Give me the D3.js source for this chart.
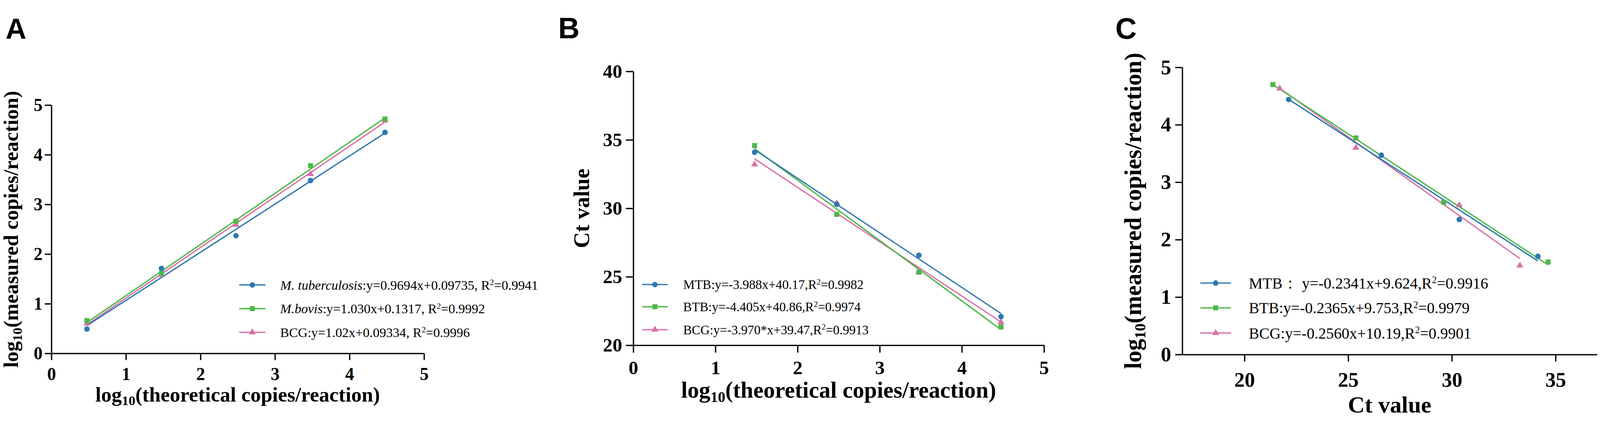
<!DOCTYPE html>
<html>
<head>
<meta charset="utf-8">
<script src="https://cdn.jsdelivr.net/npm/d3@7/dist/d3.min.js"></script>
<style>
  html, body { margin: 0; padding: 0; background: #ffffff; overflow: hidden; }
  svg { display: block; width: 100vw; height: 100vh; }
</style>
</head>
<body>
<svg id="chart" viewBox="0 0 4328 1092" preserveAspectRatio="xMidYMid meet"></svg>
<script>
// ---------------- DATA ----------------
const seriesNames = ["MTB", "BTB", "BCG"];

// Panel A: log10(theoretical) vs log10(measured)
const aX = [0.477, 1.477, 2.477, 3.477, 4.477];
const aMTB = [0.49, 1.71, 2.37, 3.48, 4.45];
const aBTB = [0.66, 1.61, 2.66, 3.78, 4.72];
const aBCG = [0.60, 1.58, 2.59, 3.61, 4.69];
const aSlope = [0.9694, 1.030, 1.02];
const aIntercept = [0.09735, 0.1317, 0.09334];
const aXTicks = [0, 1, 2, 3, 4, 5];
const aYTicks = [0, 1, 2, 3, 4, 5];
const aLegend = [
  ["M. tuberculosis", ":y=0.9694x+0.09735, R", "2", "=0.9941"],
  ["M.bovis", ":y=1.030x+0.1317, R", "2", "=0.9992"],
  ["", "BCG:y=1.02x+0.09334, R", "2", "=0.9996"]
];

// Panel B: log10(theoretical) vs Ct value
const bX = [1.477, 2.477, 3.477, 4.477];
const bMTB = [34.09, 30.30, 26.57, 22.09];
const bBTB = [34.58, 29.56, 25.33, 21.34];
const bBCG = [33.21, 30.36, 25.37, 21.68];
const bSlope = [-3.988, -4.405, -3.970];
const bIntercept = [40.17, 40.86, 39.47];
const bXTicks = [0, 1, 2, 3, 4, 5];
const bYTicks = [20, 25, 30, 35, 40];
const bLegend = [
  ["", "MTB:y=-3.988x+40.17,R", "2", "=0.9982"],
  ["", "BTB:y=-4.405x+40.86,R", "2", "=0.9974"],
  ["", "BCG:y=-3.970*x+39.47,R", "2", "=0.9913"]
];

// Panel C: Ct value vs log10(measured)
const cMTBx = [22.13, 26.60, 30.36, 34.15];
const cMTBy = [4.44, 3.47, 2.35, 1.71];
const cBTBx = [21.37, 25.37, 29.61, 34.64];
const cBTBy = [4.70, 3.77, 2.65, 1.61];
const cBCGx = [21.70, 25.37, 30.36, 33.28];
const cBCGy = [4.63, 3.60, 2.60, 1.55];
const cSlope = [-0.2341, -0.2365, -0.2560];
const cIntercept = [9.624, 9.753, 10.19];
const cXTicks = [20, 25, 30, 35];
const cYTicks = [0, 1, 2, 3, 4, 5];
const cLegend = [
  ["", "MTB\uFF1A y=-0.2341x+9.624,R", "2", "=0.9916"],
  ["", "BTB:y=-0.2365x+9.753,R", "2", "=0.9979"],
  ["", "BCG:y=-0.2560x+10.19,R", "2", "=0.9901"]
];

// ---------------- STYLE ----------------
const colors = ["#2f78b0", "#4cb848", "#d86fa8"];
const shapes = [d3.symbolCircle, d3.symbolSquare, d3.symbolTriangle];
const symSizes = [175, 185, 150];
const serif = "'Liberation Serif', 'Times New Roman', serif";
const sans = "'Liberation Sans', Arial, sans-serif";
const drawOrder = [2, 1, 0]; // BCG under BTB under MTB

const svg = d3.select("#chart");

function drawPanel(p) {
  const g = svg.append("g");
  const x = d3.scaleLinear().domain(p.xDomain).range(p.xRange);
  const y = d3.scaleLinear().domain(p.yDomain).range(p.yRange);

  const xAxis = d3.axisBottom(x).tickValues(p.xTicks).tickFormat(d3.format("d"))
    .tickSize(p.tick).tickSizeOuter(0).tickPadding(p.xPad);
  const yAxis = d3.axisLeft(y).tickValues(p.yTicks).tickFormat(d3.format("d"))
    .tickSize(p.tick).tickSizeOuter(0).tickPadding(p.yPad);

  const gx = g.append("g").attr("transform", `translate(0,${p.yRange[0]})`).call(xAxis);
  const gy = g.append("g").attr("transform", `translate(${p.xRange[0]},0)`).call(yAxis);
  [gx, gy].forEach(a => {
    a.selectAll("path.domain").attr("stroke", "#000").attr("stroke-width", 3.5);
    a.selectAll(".tick line").attr("stroke", "#000").attr("stroke-width", 3.5);
    a.selectAll(".tick text").attr("fill", "#000")
      .style("font-family", serif).style("font-weight", "bold").style("font-size", p.tickFont + "px");
  });

  // fit lines
  drawOrder.forEach(i => {
    const xs = p.fitX[i];
    const x0 = d3.min(xs), x1 = d3.max(xs);
    g.append("line")
      .attr("x1", x(x0)).attr("y1", y(p.slope[i] * x0 + p.intercept[i]))
      .attr("x2", x(x1)).attr("y2", y(p.slope[i] * x1 + p.intercept[i]))
      .attr("stroke", colors[i]).attr("stroke-width", 3.5);
  });
  // points
  drawOrder.forEach(i => {
    const xs = p.ptsX[i], ys = p.ptsY[i];
    g.selectAll(null).data(xs.map((v, k) => [v, ys[k]])).enter()
      .append("path")
      .attr("d", d3.symbol().type(shapes[i]).size(symSizes[i]))
      .attr("transform", d => `translate(${x(d[0])},${y(d[1])})`)
      .attr("fill", colors[i]);
  });

  // legend
  p.legend.forEach((row, i) => {
    const ly = p.legY[i];
    g.append("line").attr("x1", p.legX[0]).attr("x2", p.legX[1])
      .attr("y1", ly).attr("y2", ly).attr("stroke", colors[i]).attr("stroke-width", 3.5);
    g.append("path")
      .attr("d", d3.symbol().type(shapes[i]).size(symSizes[i]))
      .attr("transform", `translate(${(p.legX[0] + p.legX[1]) / 2},${ly})`)
      .attr("fill", colors[i]);
    const t = g.append("text").attr("x", p.legTextX).attr("y", ly).attr("dy", "0.35em")
      .style("font-family", serif).style("font-size", p.legFont + "px").attr("fill", "#000");
    if (row[0]) t.append("tspan").style("font-style", "italic").text(row[0]);
    t.append("tspan").text(row[1]);
    t.append("tspan").attr("dy", "-0.55em").style("font-size", "0.62em").text(row[2]);
    t.append("tspan").attr("dy", "0.34em").text(row[3]);
  });

  // axis titles
  const xt = g.append("text").attr("x", (p.xRange[0] + p.xRange[1]) / 2).attr("y", p.xTitleY)
    .attr("text-anchor", "middle").style("font-family", serif).style("font-weight", "bold")
    .style("font-size", p.xTitleFont + "px").attr("fill", "#000");
  addTitle(xt, p.xTitle);
  const yc = (p.yRange[0] + p.yRange[1]) / 2;
  const yt = g.append("text").attr("transform", `translate(${p.yTitleX},${yc}) rotate(-90)`)
    .attr("text-anchor", "middle").style("font-family", serif).style("font-weight", "bold")
    .style("font-size", p.yTitleFont + "px").attr("fill", "#000");
  addTitle(yt, p.yTitle);

  // panel letter
  g.append("text").attr("x", p.letterX).attr("y", p.letterY).text(p.letter)
    .style("font-family", sans).style("font-weight", "bold").style("font-size", p.letterFont + "px")
    .attr("fill", "#000");
}

function addTitle(t, parts) {
  if (parts.length === 1) { t.text(parts[0]); return; }
  t.append("tspan").text(parts[0]);
  t.append("tspan").attr("dy", "0.28em").style("font-size", "0.65em").text(parts[1]);
  t.append("tspan").attr("dy", "-0.18em").text(parts[2]);
}

const titleTheo = ["log", "10", "(theoretical copies/reaction)"];
const titleMeas = ["log", "10", "(measured copies/reaction)"];
const titleCt = ["Ct value"];

drawPanel({
  xDomain: [0, 5], xRange: [139, 1147], yDomain: [0, 5], yRange: [924, 253],
  xTicks: aXTicks, yTicks: aYTicks, tick: 18, xPad: 20, yPad: 6, tickFont: 48,
  ptsX: [aX, aX, aX], ptsY: [aMTB, aBTB, aBCG], fitX: [aX, aX, aX],
  slope: aSlope, intercept: aIntercept,
  legend: aLegend, legY: [739, 803, 867], legX: [647, 718], legTextX: 758, legFont: 36,
  xTitle: titleTheo, xTitleY: 1054, xTitleFont: 56,
  yTitle: titleMeas, yTitleX: 49, yTitleFont: 56,
  letter: "A", letterX: 15, letterY: 74, letterFont: 78
});

drawPanel({
  xDomain: [0, 5], xRange: [1713, 2824], yDomain: [20, 40], yRange: [902, 162],
  xTicks: bXTicks, yTicks: bYTicks, tick: 20, xPad: 21, yPad: 10, tickFont: 52,
  ptsX: [bX, bX, bX], ptsY: [bMTB, bBTB, bBCG], fitX: [bX, bX, bX],
  slope: bSlope, intercept: bIntercept,
  legend: bLegend, legY: [738, 798, 860], legX: [1737, 1806], legTextX: 1848, legFont: 35,
  xTitle: titleTheo, xTitleY: 1044, xTitleFont: 62,
  yTitle: titleCt, yTitleX: 1593, yTitleFont: 60,
  letter: "B", letterX: 1510, letterY: 73, letterFont: 80
});

drawPanel({
  xDomain: [17, 37], xRange: [3198, 4320], yDomain: [0, 5], yRange: [927, 151],
  xTicks: cXTicks, yTicks: cYTicks, tick: 19, xPad: 28, yPad: 11, tickFont: 56,
  ptsX: [cMTBx, cBTBx, cBCGx], ptsY: [cMTBy, cBTBy, cBCGy], fitX: [cMTBx, cBTBx, cBCGx],
  slope: cSlope, intercept: cIntercept,
  legend: cLegend, legY: [734, 801, 869], legX: [3247, 3330], legTextX: 3378, legFont: 42,
  xTitle: titleCt, xTitleY: 1084, xTitleFont: 63,
  yTitle: titleMeas, yTitleX: 3086, yTitleFont: 64,
  letter: "C", letterX: 3017, letterY: 74, letterFont: 80
});
</script>
</body>
</html>
